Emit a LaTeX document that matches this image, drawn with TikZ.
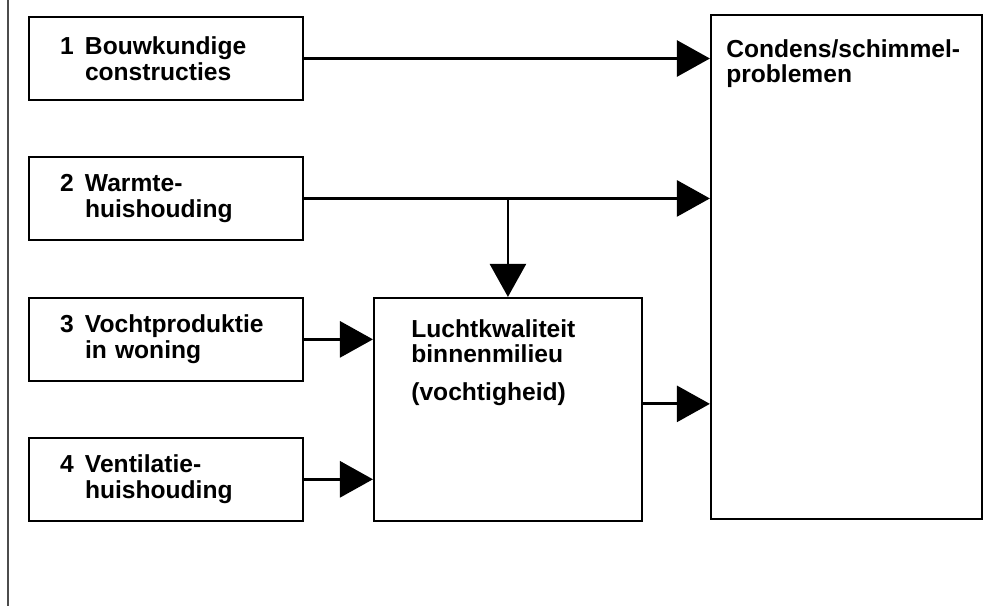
\documentclass[tikz,border=0pt]{standalone}
\usepackage{fontspec}
\setmainfont{Liberation Sans}
\usetikzlibrary{positioning, arrows.meta}

\begin{document}
\begin{tikzpicture}[->, >={Triangle[length=0.66cm, width=0.72cm]}, line width=1.6pt,
  factor/.style={draw, -, line width=1.1pt, minimum width=5.48cm, minimum height=1.66cm,
    text width=4.24cm, inner xsep=0.62cm, align=left,
    font=\fontsize{14}{14.5}\selectfont\bfseries},
  field/.style={draw, -, line width=1.1pt, inner sep=0pt},
  caption/.style={inner sep=0pt, align=left, font=\fontsize{14}{14.5}\selectfont\bfseries}]

  \useasboundingbox (0,0) rectangle (20.06,-12.12);
  \draw[-, gray!60!black, line width=1.3pt] (0.16,0) -- (0.16,-12.12);

  \node[factor] (box1) at (3.32,-1.17) {\makebox[0.5cm][l]{1}Bouwkundige\\\hspace*{0.5cm}constructies};
  \node[factor] (box2) [below=1.1cm of box1] {\makebox[0.5cm][l]{2}Warmte-\\\hspace*{0.5cm}huishouding};
  \node[factor] (box3) [below=1.12cm of box2] {\makebox[0.5cm][l]{3}Vochtproduktie\\\hspace*{0.5cm}in woning};
  \node[factor] (box4) [below=1.1cm of box3] {\makebox[0.5cm][l]{4}Ventilatie-\\\hspace*{0.5cm}huishouding};

  \node[field, minimum width=5.36cm, minimum height=4.46cm] (lucht)
    [right=1.38cm of box3.north east, anchor=north west] {};
  \node[caption] (luchttxt) [below right=0.42cm and 0.74cm of lucht.north west]
    {Luchtkwaliteit\\binnenmilieu\\[0.24cm](vochtigheid)};

  \node[field, minimum width=5.42cm, minimum height=10.08cm, anchor=north west,
    xshift=1.34cm, yshift=0.04cm] (condens) at (lucht.east |- box1.north) {};
  \node[caption] (condenstxt) [below right=0.48cm and 0.3cm of condens.north west]
    {Condens/schimmel-\\problemen};

  % pijlen
  \draw (box1.east) -- (box1.east -| condens.west);
  \draw (box2.east) -- (box2.east -| condens.west);
  \draw (box2.east -| lucht.north) -- (lucht.north);
  \draw (box3.east) -- (box3.east -| lucht.west);
  \draw (box4.east) -- (box4.east -| lucht.west);
  \draw ([yshift=0.11cm]lucht.east) -- ([yshift=0.11cm]lucht.east -| condens.west);

\end{tikzpicture}
\end{document}
